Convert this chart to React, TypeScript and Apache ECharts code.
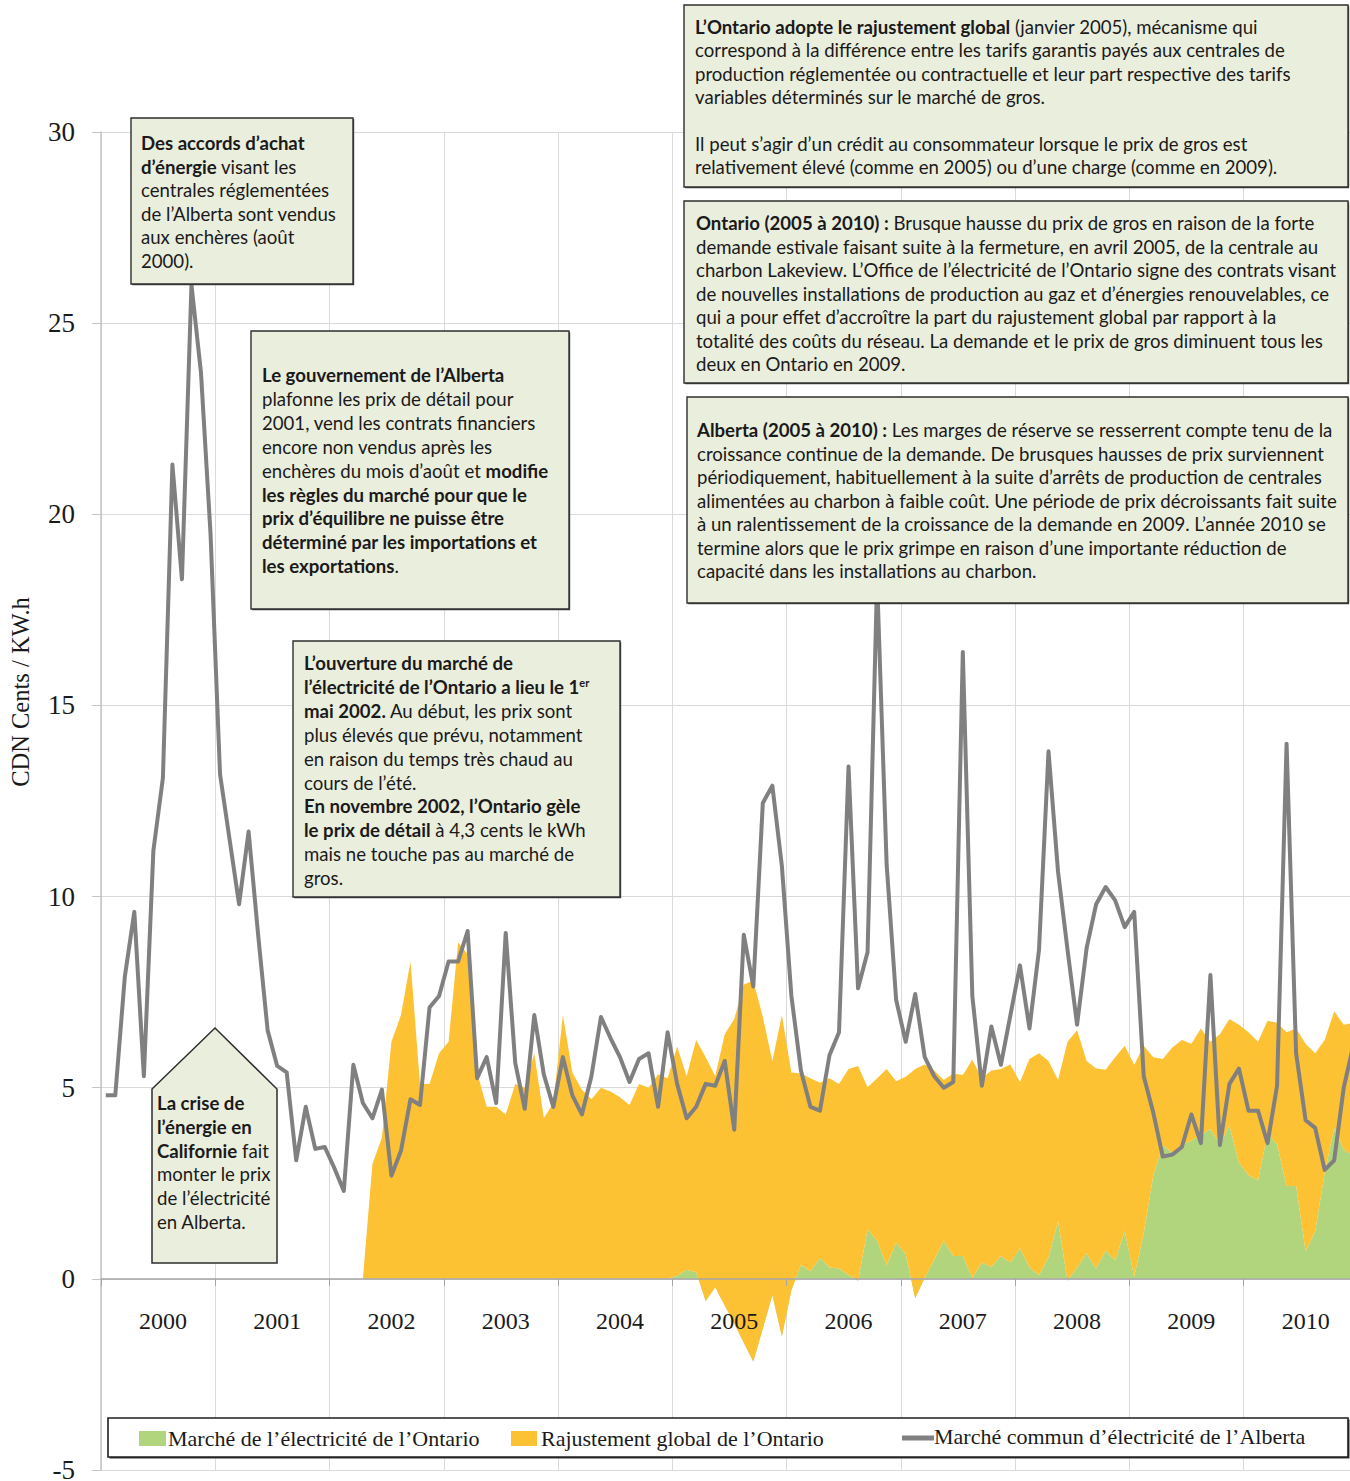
import React, { useEffect, useRef } from "react";
import * as echarts from "echarts";

// ---------- DATA ----------
const years = [2000, 2001, 2002, 2003, 2004, 2005, 2006, 2007, 2008, 2009, 2010];
const monthCodes = ["01", "02", "03", "04", "05", "06", "07", "08", "09", "10", "11", "12"];
const categories: string[] = years.flatMap((y) => monthCodes.map((m) => `${y}-${m}`));

const yMin = -5;
const yMax = 30;
const yStep = 5;

// Alberta pool price (CDN cents/kWh), Jan 2000 .. Dec 2010
const alberta = [
  4.8, 4.8, 7.9, 9.6, 5.3, 11.2, 13.1, 21.3, 18.3, 26.0, 23.7, 19.5,
  13.2, 11.5, 9.8, 11.7, 9.0, 6.5, 5.57, 5.4, 3.1, 4.5, 3.4, 3.45,
  2.9, 2.3, 5.6, 4.6, 4.2, 4.95, 2.7, 3.35, 4.7, 4.55, 7.1, 7.4,
  8.3, 8.3, 9.1, 5.25, 5.8, 4.6, 9.05, 5.65, 4.45, 6.9, 5.35, 4.5,
  5.8, 4.8, 4.3, 5.3, 6.85, 6.3, 5.8, 5.15, 5.75, 5.9, 4.5, 6.45,
  5.1, 4.2, 4.5, 5.1, 5.05, 5.7, 3.9, 9.0, 7.65, 12.45, 12.9, 10.8,
  7.4, 5.45, 4.5, 4.4, 5.85, 6.45, 13.4, 7.6, 8.55, 18.3, 10.85, 7.3,
  6.2, 7.45, 5.8, 5.3, 5.0, 5.15, 16.4, 7.4, 5.05, 6.6, 5.6, 6.9,
  8.2, 6.55, 8.6, 13.8, 10.65, 8.6, 6.65, 8.65, 9.8, 10.25, 9.9, 9.2,
  9.6, 5.3, 4.35, 3.2, 3.25, 3.45, 4.3, 3.55, 7.95, 3.5, 5.1, 5.5,
  4.4, 4.4, 3.55, 5.05, 14.0, 5.9, 4.15, 3.95, 2.85, 3.1, 5.0, 6.1,
];

// green area (first of the stack)
const ontarioMarket = [
  null, null, null, null, null, null, null, null, null, null, null, null,
  null, null, null, null, null, null, null, null, null, null, null, null,
  null, null, null, 0, 0, 0, 0, 0, 0, 0, 0, 0,
  0, 0, 0, 0, 0, 0, 0, 0, 0, 0, 0, 0,
  0, 0, 0, 0, 0, 0, 0, 0, 0, 0, 0, 0,
  0.08, 0.24, 0.17, -0.58, -0.22, -0.7, -1.17, -1.67, -2.16, -1.3, -0.42, -1.5,
  -0.29, 0.37, 0.2, 0.55, 0.3, 0.27, 0.1, -0.05, 1.3, 1.0, 0.35, 0.95,
  0.65, -0.5, 0.03, 0.5, 1.0, 0.6, 0.6, 0.03, 0.43, 0.31, 0.6, 0.43,
  0.8, 0.3, 0.1, 0.57, 1.5, -0.05, 0.3, 0.67, 0.27, 0.75, 0.48, 1.25,
  0.05, 1.2, 2.7, 3.5, 3.3, 3.5, 3.61, 3.76, 3.92, 3.52, 4.01, 3.04,
  2.71, 2.57, 3.8, 3.52, 2.43, 2.43, 0.72, 1.24, 2.76, 3.95, 3.38, 3.23,
];

// orange area (stacked on the green one)
const globalAdjustment = [
  null, null, null, null, null, null, null, null, null, null, null, null,
  null, null, null, null, null, null, null, null, null, null, null, null,
  null, null, null, 0, 3.0, 3.7, 6.2, 6.9, 8.3, 5.1, 5.1, 5.9,
  6.2, 8.8, 8.5, 5.4, 4.5, 4.5, 4.3, 5.1, 5.0, 5.9, 4.2, 4.6,
  6.9, 5.4, 4.95, 4.7, 5.0, 4.9, 4.75, 4.55, 5.1, 5.0, 5.35, 5.25,
  6.0, 5.06, 6.08, 6.38, 5.52, 7.1, 7.97, 9.37, 9.96, 8.15, 6.12, 8.4,
  5.69, 5.0, 5.05, 4.58, 4.95, 4.83, 5.39, 5.62, 3.71, 4.25, 5.14, 4.22,
  4.64, 5.99, 5.58, 4.95, 4.2, 4.77, 4.73, 5.7, 4.82, 5.14, 4.89, 5.18,
  4.35, 5.45, 5.8, 5.13, 3.7, 6.25, 6.2, 5.03, 5.23, 4.72, 5.32, 4.85,
  5.55, 4.9, 3.1, 2.25, 2.75, 2.75, 2.54, 2.79, 2.28, 2.88, 2.79, 3.61,
  3.74, 3.63, 2.95, 3.18, 4.02, 4.12, 5.43, 4.66, 3.49, 3.05, 3.27, 3.47,
];

const seriesNames = [
  "Marché de l’électricité de l’Ontario",
  "Rajustement global de l’Ontario",
  "Marché commun d’électricité de l’Alberta",
];
const yAxisTitle = "CDN Cents / KW.h";

const box1 = [
  "{b|Des accords d’achat}",
  "{b|d’énergie} visant les",
  "centrales réglementées",
  "de l’Alberta sont vendus",
  "aux enchères (août",
  "2000).",
];
const box2 = [
  "{b|Le gouvernement de l’Alberta}",
  "plafonne les prix de détail pour",
  "2001, vend les contrats financiers",
  "encore non vendus après les",
  "enchères du mois d’août et {b|modifie}",
  "{b|les règles du marché pour que le}",
  "{b|prix d’équilibre ne puisse être}",
  "{b|déterminé par les importations et}",
  "{b|les exportations}.",
];
const box3 = [
  "{b|L’ouverture du marché de}",
  "{b|l’électricité de l’Ontario a lieu le 1}{sup|er}",
  "{b|mai 2002.} Au début, les prix sont",
  "plus élevés que prévu, notamment",
  "en raison du temps très chaud au",
  "cours de l’été.",
  "{b|En novembre 2002, l’Ontario gèle}",
  "{b|le prix de détail} à 4,3 cents le kWh",
  "mais ne touche pas au marché de",
  "gros.",
];
const box4 = [
  "{b|La crise de}",
  "{b|l’énergie en}",
  "{b|Californie} fait",
  "monter le prix",
  "de l’électricité",
  "en Alberta.",
];
const box5 = [
  "{b|L’Ontario adopte le rajustement global} (janvier 2005), mécanisme qui",
  "correspond à la différence entre les tarifs garantis payés aux centrales de",
  "production réglementée ou contractuelle et leur part respective des tarifs",
  "variables déterminés sur le marché de gros.",
  "",
  "Il peut s’agir d’un crédit au consommateur lorsque le prix de gros est",
  "relativement élevé (comme en 2005) ou d’une charge (comme en 2009).",
];
const box6 = [
  "{b|Ontario (2005 à 2010) :} Brusque hausse du prix de gros en raison de la forte",
  "demande estivale faisant suite à la fermeture, en avril 2005, de la centrale au",
  "charbon Lakeview. L’Office de l’électricité de l’Ontario signe des contrats visant",
  "de nouvelles installations de production au gaz et d’énergies renouvelables, ce",
  "qui a pour effet d’accroître la part du rajustement global par rapport à la",
  "totalité des coûts du réseau. La demande et le prix de gros diminuent tous les",
  "deux en Ontario en 2009.",
];
const box7 = [
  "{b|Alberta (2005 à 2010) :} Les marges de réserve se resserrent compte tenu de la",
  "croissance continue de la demande. De brusques hausses de prix surviennent",
  "périodiquement, habituellement à la suite d’arrêts de production de centrales",
  "alimentées au charbon à faible coût. Une période de prix décroissants fait suite",
  "à un ralentissement de la croissance de la demande en 2009. L’année 2010 se",
  "termine alors que le prix grimpe en raison d’une importante réduction de",
  "capacité dans les installations au charbon.",
];

// ---------- STYLE ----------
const SANS = "Lato, 'Open Sans', sans-serif";
const SERIF = "'Liberation Serif', 'DejaVu Serif', serif";
const GREEN = "#b0d57c";
const ORANGE = "#fdc134";
const GRAY = "#808080";
const BOX_FILL = "#eaeedd";
const BOX_STROKE = "#2e2e2e";
const TEXT = "#1a1a1a";
const FS = 18.6;

function textLines(lines: string[], x: number, firstCenter: number, lh: number, fontSize: number) {
  return lines
    .map((line, i) =>
      line === ""
        ? null
        : {
            type: "text",
            z: 102,
            x,
            y: firstCenter + i * lh,
            style: {
              text: line,
              fill: TEXT,
              fontFamily: SANS,
              fontSize,
              align: "left",
              verticalAlign: "middle",
              rich: {
                b: { fontFamily: SANS, fontSize, fontWeight: "bold", fill: TEXT },
                sup: { fontFamily: SANS, fontSize: 11, fontWeight: "bold", fill: TEXT, padding: [0, 0, 9, 0] },
              },
            },
          }
    )
    .filter(Boolean);
}

function rectBox(x: number, y: number, w: number, h: number) {
  return [
    {
      type: "rect",
      z: 99,
      shape: { x: x + 1.2, y: y + 1.2, width: w, height: h },
      style: { fill: "#4a4a4a" },
    },
    {
      type: "rect",
      z: 100,
      shape: { x, y, width: w, height: h },
      style: { fill: BOX_FILL, stroke: BOX_STROKE, lineWidth: 1.4 },
    },
  ];
}

const graphic: any[] = [
  ...rectBox(131, 118, 222, 166),
  ...textLines(box1, 141, 143, 23.5, FS),
  ...rectBox(251, 331, 318, 278),
  ...textLines(box2, 262, 375, 23.9, FS),
  ...rectBox(293, 641, 327, 256),
  ...textLines(box3, 304, 663, 23.9, FS),
  {
    type: "polygon",
    z: 100,
    shape: { points: [[152, 1263], [152, 1089], [215, 1028], [277, 1089], [277, 1263]] },
    style: { fill: BOX_FILL, stroke: BOX_STROKE, lineWidth: 1.5 },
  },
  ...textLines(box4, 157, 1103, 23.8, FS),
  ...rectBox(684, 5, 664, 182),
  ...textLines(box5, 695, 27, 23.35, FS),
  ...rectBox(684, 201, 664, 182),
  ...textLines(box6, 696, 223, 23.5, FS),
  ...rectBox(687, 397, 661, 206),
  ...textLines(box7, 697, 430, 23.5, FS),
  // y axis title
  {
    type: "text",
    z: 102,
    x: 20,
    y: 692,
    rotation: Math.PI / 2,
    style: { text: yAxisTitle, fill: TEXT, fontFamily: SERIF, fontSize: 24.5, align: "center", verticalAlign: "middle" },
  },
  // legend
  {
    type: "rect",
    z: 99,
    shape: { x: 109.5, y: 1419.5, width: 1240, height: 39 },
    style: { fill: "#3a3a3a" },
  },
  {
    type: "rect",
    z: 100,
    shape: { x: 108, y: 1418, width: 1240, height: 39 },
    style: { fill: "#ffffff", stroke: "#1e1e1e", lineWidth: 1.6 },
  },
  { type: "rect", z: 101, shape: { x: 139, y: 1431, width: 27, height: 15 }, style: { fill: GREEN } },
  {
    type: "text", z: 102, x: 168, y: 1438,
    style: { text: seriesNames[0], fill: TEXT, fontFamily: SERIF, fontSize: 22, align: "left", verticalAlign: "middle" },
  },
  { type: "rect", z: 101, shape: { x: 511, y: 1431, width: 26, height: 15 }, style: { fill: ORANGE } },
  {
    type: "text", z: 102, x: 541, y: 1438,
    style: { text: seriesNames[1], fill: TEXT, fontFamily: SERIF, fontSize: 22, align: "left", verticalAlign: "middle" },
  },
  {
    type: "line", z: 101,
    shape: { x1: 902, y1: 1438, x2: 934, y2: 1438 },
    style: { stroke: GRAY, lineWidth: 5 },
  },
  {
    type: "text", z: 102, x: 934, y: 1436,
    style: { text: seriesNames[2], fill: TEXT, fontFamily: SERIF, fontSize: 22, align: "left", verticalAlign: "middle" },
  },
];

const yearBoundary = (i: number) => i % 12 === 0;
const yearMiddle = (i: number) => i % 12 === 6;

const option: any = {
  animation: false,
  backgroundColor: "#ffffff",
  grid: { left: 101, right: 0, top: 132, bottom: 11, containLabel: false, outerBoundsMode: "none" },
  xAxis: [
    {
      // grid lines only (beneath the areas)
      type: "category",
      data: categories,
      boundaryGap: true,
      position: "bottom",
      axisLine: { show: false, onZero: false },
      axisTick: { show: false },
      axisLabel: { show: false },
      splitLine: {
        show: true,
        interval: yearBoundary,
        lineStyle: { color: "#dadada", width: 1 },
      },
    },
    {
      // zero line, ticks and year labels (above the areas)
      type: "category",
      data: categories,
      boundaryGap: true,
      position: "bottom",
      offset: -191,
      z: 10,
      axisLine: { show: true, onZero: false, lineStyle: { color: "#a6a6a6", width: 1.5 } },
      axisTick: {
        show: true,
        interval: yearBoundary,
        length: 7,
        lineStyle: { color: "#a6a6a6" },
      },
      axisLabel: {
        interval: yearMiddle,
        formatter: (v: string) => v.slice(0, 4),
        fontFamily: SERIF,
        fontSize: 24,
        color: TEXT,
        margin: 30,
      },
      splitLine: { show: false },
    },
  ],
  yAxis: {
    type: "value",
    min: yMin,
    max: yMax,
    interval: yStep,
    axisLine: { show: true, lineStyle: { color: "#c4c4c4", width: 1.5 } },
    axisTick: { show: true, length: 9, lineStyle: { color: "#c4c4c4" } },
    axisLabel: { fontFamily: SERIF, fontSize: 27, lineHeight: 20, color: TEXT, margin: 26 },
    splitLine: { show: true, lineStyle: { color: "#dadada", width: 1 } },
  },
  series: [
    {
      name: seriesNames[0],
      type: "line",
      xAxisIndex: 0,
      data: ontarioMarket,
      stack: "ontario",
      stackStrategy: "all",
      symbol: "none",
      lineStyle: { width: 0, opacity: 0 },
      areaStyle: { color: GREEN, opacity: 1 },
      z: 2,
    },
    {
      name: seriesNames[1],
      type: "line",
      xAxisIndex: 0,
      data: globalAdjustment,
      stack: "ontario",
      stackStrategy: "all",
      symbol: "none",
      lineStyle: { width: 0, opacity: 0 },
      areaStyle: { color: ORANGE, opacity: 1 },
      z: 3,
    },
    {
      name: seriesNames[2],
      type: "line",
      xAxisIndex: 0,
      data: alberta,
      symbol: "none",
      lineStyle: { width: 4, color: GRAY, join: "round" },
      z: 5,
    },
  ],
  graphic,
};

export default function App() {
  const ref = useRef<HTMLDivElement>(null);
  useEffect(() => {
    const chart = echarts.init(ref.current as HTMLDivElement, null, { renderer: "svg" });
    chart.setOption(option);
    return () => chart.dispose();
  }, []);
  return (
    <div
      style={{
        position: "absolute",
        left: 0,
        top: 0,
        width: 1350,
        height: 1481,
        overflow: "hidden",
        background: "#ffffff",
      }}
    >
      <div ref={ref} style={{ width: 1358, height: 1481 }} />
    </div>
  );
}
